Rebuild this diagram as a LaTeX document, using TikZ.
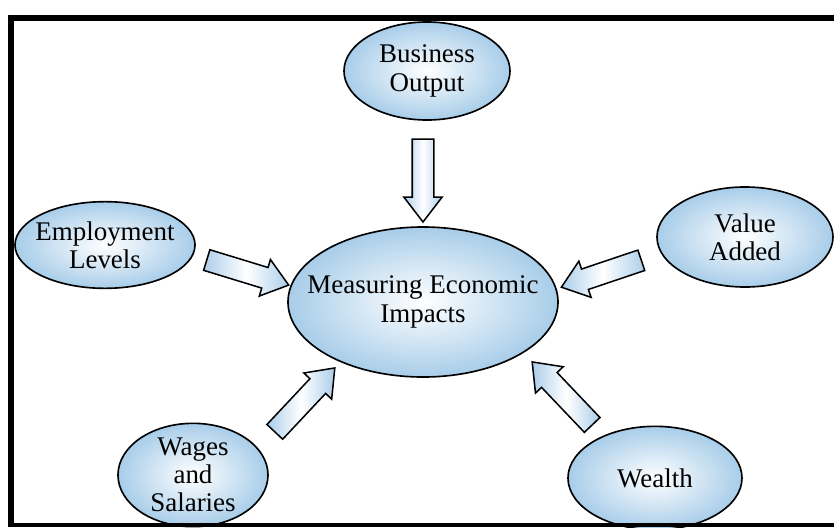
\documentclass[tikz,border=0pt]{standalone}
\usepackage{fontspec}
\setmainfont{Liberation Serif}
\usetikzlibrary{shapes.geometric,shapes.arrows}
\definecolor{ovalblue}{RGB}{168,205,233}
\definecolor{arrowblue}{RGB}{172,206,234}
\begin{document}
\begin{tikzpicture}[x=0.03cm,y=-0.03cm,font=\fontsize{23}{24}\selectfont,
    oval/.style={ellipse,draw,line width=1.4pt,inner sep=-1cm,align=center,
      inner color=white,outer color=ovalblue},
    blockarrow/.style={single arrow,draw,line width=1.3pt,inner xsep=0pt,inner ysep=0.3cm,
      single arrow head extend=0.25cm,single arrow tip angle=75,
      left color=arrowblue,right color=arrowblue,middle color=white}]
  \fill[white] (0,0) rectangle (834,527);
  \useasboundingbox (0,0) rectangle (834,527);
  % the five sources and the centre
  \node[oval,minimum width=8.1cm,minimum height=4.5cm] (mei) at (423,302) {Measuring Economic\\Impacts};
  \node[oval,minimum width=4.98cm,minimum height=2.94cm] (bo) at (427,71) {Business\\Output};
  \node[oval,minimum width=5.4cm,minimum height=2.6cm] (el) at (105,245) {Employment\\Levels};
  \node[oval,minimum width=5.28cm,minimum height=3cm] (va) at (745,237) {Value\\Added};
  \node[oval,minimum width=4.5cm,minimum height=3.1cm] (ws) at (193,475) {Wages\\and\\Salaries};
  \node[oval,minimum width=5.22cm,minimum height=3.1cm] (we) at (655,478) {Wealth};
  % block arrows
  \node[blockarrow,minimum height=2.49cm,rotate=-90] (bo-mei) at (423,173.5) {};
  \node[blockarrow,minimum height=2.57cm,rotate=-17] (el-mei) at (241,270.5) {};
  \node[blockarrow,minimum height=2.53cm,rotate=-161.4] (va-mei) at (608,271.5) {};
  \node[blockarrow,minimum height=2.63cm,rotate=46.8] (ws-mei) at (300,405) {};
  \node[blockarrow,minimum height=2.61cm,rotate=133.6] (we-mei) at (567,398.5) {};
  % frame
  \fill (8,15) rectangle (834,21);
  \fill (8,15) rectangle (14,527);
  \fill (8,523) rectangle (834,527);
\end{tikzpicture}
\end{document}
